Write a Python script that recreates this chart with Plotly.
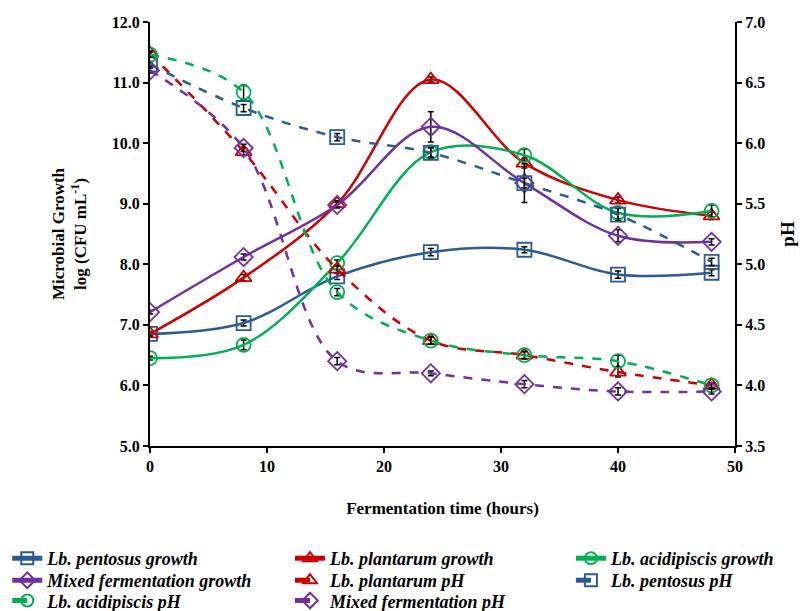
import plotly.graph_objects as go

time = [0, 8, 16, 24, 32, 40, 48]

pentosus_growth = [6.85, 7.03, 7.80, 8.20, 8.24, 7.83, 7.86]
plantarum_growth = [6.85, 7.78, 9.00, 11.05, 9.67, 9.06, 8.80]
acidipiscis_growth = [6.45, 6.67, 8.02, 9.85, 9.80, 8.85, 8.88]
mixed_growth = [7.21, 8.12, 8.98, 10.27, 9.34, 8.47, 8.37]

plantarum_ph = [6.74, 5.93, 4.96, 4.37, 4.25, 4.11, 4.00]
pentosus_ph = [6.65, 6.29, 6.05, 5.92, 5.67, 5.41, 5.02]
acidipiscis_ph = [6.73, 6.42, 4.77, 4.37, 4.25, 4.20, 4.00]
mixed_ph = [6.60, 5.96, 4.20, 4.10, 4.01, 3.95, 3.95]

pentosus_growth_err = [0.04, 0.05, 0.05, 0.06, 0.05, 0.06, 0.05]
plantarum_growth_err = [0.03, 0.05, 0.05, 0.04, 0.08, 0.05, 0.06]
acidipiscis_growth_err = [0.03, 0.08, 0.05, 0.08, 0.10, 0.10, 0.10]
mixed_growth_err = [0.03, 0.05, 0.05, 0.25, 0.08, 0.10, 0.05]
plantarum_ph_err = [0.02, 0.03, 0.03, 0.03, 0.03, 0.04, 0.02]
pentosus_ph_err = [0.02, 0.03, 0.03, 0.04, 0.16, 0.05, 0.03]
acidipiscis_ph_err = [0.02, 0.06, 0.03, 0.03, 0.03, 0.05, 0.02]
mixed_ph_err = [0.02, 0.03, 0.03, 0.02, 0.03, 0.03, 0.02]

BLUE = "#2C5A92"
RED = "#CC0000"
GREEN = "#00B050"
PURPLE = "#7030A0"

# (name, values, errors, colour, symbol, dash, axis)
series = [
    ("Lb. pentosus growth", pentosus_growth, pentosus_growth_err, BLUE, "square-open", "solid", "y"),
    ("Lb. plantarum growth", plantarum_growth, plantarum_growth_err, RED, "triangle-up-open", "solid", "y"),
    ("Lb. acidipiscis growth", acidipiscis_growth, acidipiscis_growth_err, GREEN, "circle-open", "solid", "y"),
    ("Mixed fermentation growth", mixed_growth, mixed_growth_err, PURPLE, "diamond-open", "solid", "y"),
    ("Lb. plantarum pH", plantarum_ph, plantarum_ph_err, RED, "triangle-up-open", "dash", "y2"),
    ("Lb. pentosus pH", pentosus_ph, pentosus_ph_err, BLUE, "square-open", "dash", "y2"),
    ("Lb. acidipiscis pH", acidipiscis_ph, acidipiscis_ph_err, GREEN, "circle-open", "dash", "y2"),
    ("Mixed fermentation pH", mixed_ph, mixed_ph_err, PURPLE, "diamond-open", "dash", "y2"),
]

font_main = "Liberation Serif, Times New Roman, serif"
legend_font = dict(family=font_main, size=18, color="black", style="italic", weight="bold")

col_x = [-0.244, 0.2393, 0.7195]
row_y = [-0.2217, -0.2736, -0.3215]

fig = go.Figure()
legends = {}
for i, (name, vals, err, color, sym, dash, axis) in enumerate(series):
    key = "legend" if i == 0 else f"legend{i + 1}"
    row, col = divmod(i, 3)
    legends[key] = dict(
        orientation="v", xref="paper", x=col_x[col], xanchor="left",
        yref="paper", y=row_y[row], yanchor="top",
        itemwidth=30, itemsizing="constant",
        font=legend_font, bgcolor="rgba(0,0,0,0)",
    )
    fig.add_trace(go.Scatter(
        x=time, y=vals, name=name, yaxis=axis, legend=key,
        mode="lines+markers",
        line=dict(color=color, width=2.5, dash=dash, shape="spline", smoothing=1.0),
        marker=dict(symbol=sym, size=14, color=color, line=dict(width=1.8, color=color)),
        error_y=dict(type="data", array=err, visible=True, color="black", thickness=1.5, width=3),
    ))

fig.update_layout(
    width=801, height=603,
    margin=dict(l=142, r=74, t=14, b=165, autoexpand=False),
    paper_bgcolor="white", plot_bgcolor="white",
    font=dict(family=font_main, color="black", size=14),
    showlegend=True,
    xaxis=dict(
        range=[0, 50], dtick=10, tick0=0, automargin=False,
        showline=True, linecolor="black", linewidth=2,
        ticks="outside", ticklen=5, tickwidth=2, tickcolor="black",
        showgrid=False, zeroline=False,
        tickfont=dict(family=font_main, size=16, weight="bold"),
        title=dict(text="<b>Fermentation time (hours)</b>", font=dict(family=font_main, size=17), standoff=28),
    ),
    yaxis=dict(
        range=[5, 12], dtick=1, tick0=5, tickformat=".1f", automargin=False,
        showline=True, linecolor="black", linewidth=2,
        ticks="outside", ticklen=5, tickwidth=2, tickcolor="black",
        showgrid=False, zeroline=False,
        tickfont=dict(family=font_main, size=16, weight="bold"),
        title=dict(text="<b>Microbial Growth<br>log (CFU mL<sup>-1</sup>)</b>", font=dict(family=font_main, size=17), standoff=21),
    ),
    yaxis2=dict(
        range=[3.5, 7.0], dtick=0.5, tick0=3.5, tickformat=".1f", automargin=False,
        overlaying="y", side="right",
        showline=True, linecolor="black", linewidth=2,
        ticks="outside", ticklen=5, tickwidth=2, tickcolor="black",
        showgrid=False, zeroline=False,
        tickfont=dict(family=font_main, size=16, weight="bold"),
        title=dict(text="<b>pH</b>", font=dict(family=font_main, size=19), standoff=16),
    ),
)
fig.update_layout(**legends)

fig.write_html("out.html")
